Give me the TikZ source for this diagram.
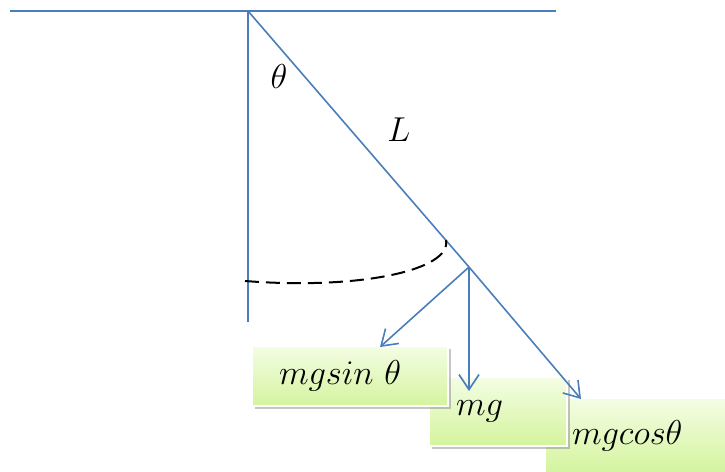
\documentclass[tikz,border=0pt]{standalone}
\usepackage{tikz}
\usetikzlibrary{arrows.meta, shadows}
\definecolor{ropeblue}{RGB}{74,126,187}
\definecolor{boxtop}{RGB}{244,253,228}
\definecolor{boxbottom}{RGB}{212,244,158}

\begin{document}
\begin{tikzpicture}[
    x=0.5pt, y=-0.5pt,
    rope/.style={draw=ropeblue, line width=0.8pt},
    force/.style={-{Straight Barb[length=7.5pt, width=10pt]}, draw=ropeblue, line width=0.8pt},
    swing/.style={draw=black, line width=1pt, dash pattern=on 7pt off 3.5pt},
    forcebox/.style={rectangle, anchor=north west, draw=white, line width=1pt, top color=boxtop, bottom color=boxbottom, drop shadow={shadow xshift=1.5pt, shadow yshift=-1.5pt, opacity=0.45}, inner xsep=13.5pt, inner ysep=0pt, align=left, font=\fontsize{16}{19}\selectfont},
    label/.style={font=\fontsize{16}{19}\selectfont}
]
    \clip (0,0) rectangle (725,472);

    % Ceiling and rope
    \coordinate (ceilL) at (10,11);
    \coordinate (ceilR) at (556,11);
    \coordinate (pivot) at (248,11);
    \coordinate (vbot) at (248,322);
    \coordinate (bob) at (469,267);
    \draw[rope] (ceilL) -- (ceilR);
    \draw[rope] (pivot) -- (vbot);
    \draw[rope] (pivot) -- (bob);

    \node[label] (theta) at (279,76) {$\theta$};
    \node[label] (len) at (399,130) {$L$};

    % Swing path
    \coordinate (arcL) at (245,281);
    \coordinate (arcR) at (446,240);
    \draw[swing] (arcL) .. controls (360,290) and (452,270) .. (arcR);

    % Force boxes
    \node[forcebox, text width=68.5pt, minimum height=37.5pt] (cosbox) at (544,397) {$mgcos\theta$};
    \node[forcebox, text width=42pt, minimum height=34.5pt] (mgbox) at (428,376) {$mg$};
    \node[forcebox, text width=71pt, minimum height=30pt] (sinbox) at (251,345) {$mgsin\ \theta$};

    % Forces
    \coordinate (sintip) at (380,347);
    \coordinate (mgtip) at (469,391);
    \coordinate (costip) at (581,399);
    \draw[force] (bob) -- (sintip);
    \draw[force] (bob) -- (mgtip);
    \draw[force] (bob) -- (costip);

\end{tikzpicture}
\end{document}
